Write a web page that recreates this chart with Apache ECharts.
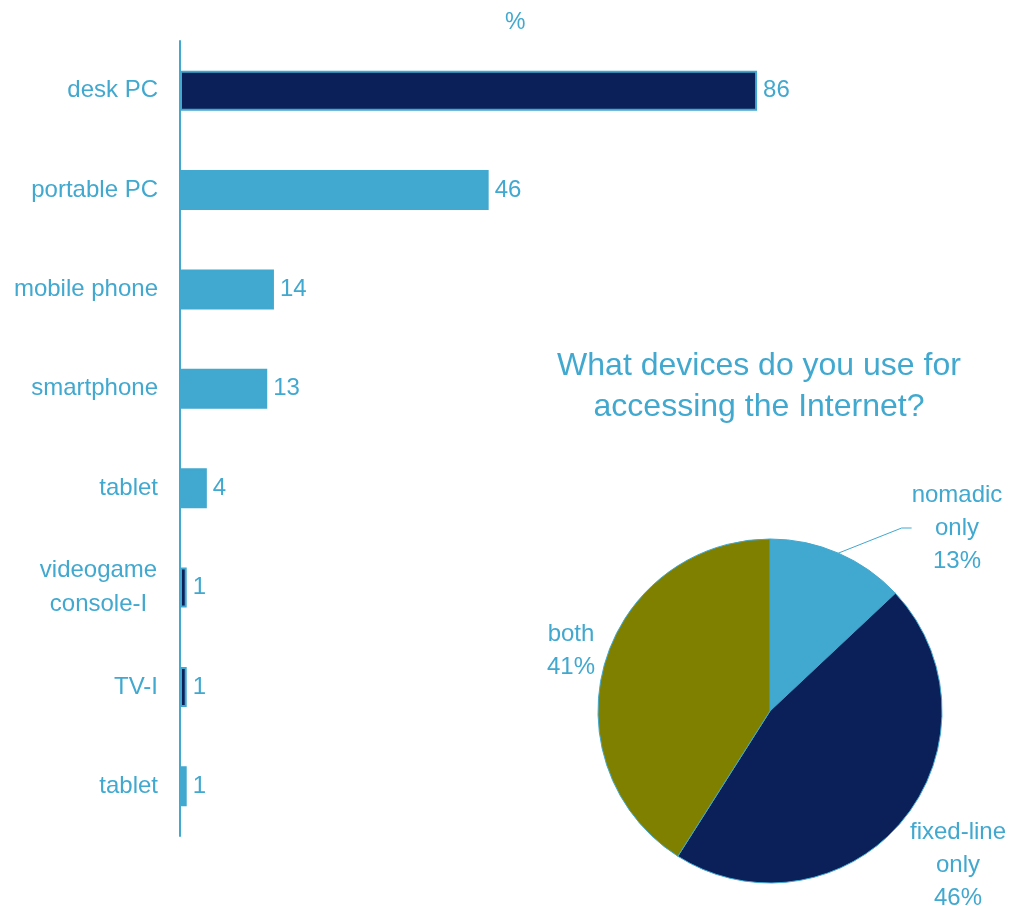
<!DOCTYPE html>
<html>
<head>
<meta charset="utf-8">
<style>
  html, body { margin: 0; padding: 0; background: #ffffff; }
  #chart { width: 1010px; height: 906px; }
</style>
<script src="https://cdn.jsdelivr.net/npm/echarts@6/dist/echarts.min.js"></script>
</head>
<body>
<div id="chart"></div>
<script>
// Devices used for accessing the Internet (%)
const deviceNames = ['desk PC', 'portable PC', 'mobile phone', 'smartphone', 'tablet', 'videogame\nconsole-I', 'TV-I', 'tablet'];
const deviceShares = [86, 46, 14, 13, 4, 1, 1, 1];
const deviceDark = [true, false, false, false, false, true, true, false];

// Type of access
const accessNames = ['nomadic only', 'fixed-line only', 'both'];
const accessShares = [13, 46, 41];

const NAVY = '#0b1f58';
const BLUE = '#41a8cf';
const OLIVE = '#808000';
const FONT = '"Liberation Sans", Arial, sans-serif';

const barData = deviceShares.map((v, i) => ({
  value: v,
  itemStyle: { color: deviceDark[i] ? NAVY : BLUE }
}));

// label anchor points for each pie slice
const pieLabelPos = [
  { x: 957, y: 528 },
  { x: 958, y: 865 },
  { x: 571, y: 651 }
];

const pieData = accessNames.map((n, i) => ({
  name: n,
  value: accessShares[i],
  itemStyle: { color: [BLUE, NAVY, OLIVE][i] },
  labelLine: { show: i === 0 }
}));

const chart = echarts.init(document.getElementById('chart'), null, { renderer: 'canvas' });
chart.setOption({
  animation: false,
  backgroundColor: '#ffffff',
  textStyle: { fontFamily: FONT },
  title: [
    {
      text: '%',
      left: 500, top: 6,
      textStyle: { color: BLUE, fontSize: 23, fontWeight: 'normal', fontFamily: FONT }
    },
    {
      text: 'What devices do you use for\naccessing the Internet?',
      left: 754, top: 341,
      textAlign: 'center',
      textStyle: { color: BLUE, fontSize: 32, lineHeight: 41, fontWeight: 'normal', fontFamily: FONT }
    }
  ],
  grid: { left: 180, top: 41, height: 795, width: 671, containLabel: false },
  xAxis: {
    type: 'value', min: 0, max: 100,
    show: false
  },
  yAxis: {
    type: 'category',
    data: deviceNames,
    inverse: true,
    axisLine: { show: true, lineStyle: { color: BLUE, width: 2 } },
    axisTick: { show: false },
    splitLine: { show: false },
    axisLabel: {
      margin: 22,
      color: BLUE,
      fontSize: 24,
      lineHeight: 34,
      fontFamily: FONT,
      formatter: function (v) {
        if (v.indexOf('\n') >= 0) {
          return v.split('\n').map(s => '{c|' + s + '}').join('\n');
        }
        return v;
      },
      rich: {
        c: { width: 119, align: 'center', color: BLUE, fontSize: 24, lineHeight: 34, fontFamily: FONT }
      }
    }
  },
  series: [
    {
      type: 'bar',
      data: barData,
      barWidth: 40,
      itemStyle: { borderColor: BLUE, borderWidth: 2 },
      label: {
        show: true,
        position: 'right',
        distance: 6,
        color: BLUE,
        fontSize: 24,
        fontFamily: FONT
      }
    },
    {
      type: 'pie',
      center: [770, 711],
      radius: 172,
      startAngle: 90,
      clockwise: true,
      data: pieData,
      itemStyle: { borderColor: BLUE, borderWidth: 1 },
      label: {
        show: true,
        position: 'outside',
        color: BLUE,
        fontSize: 24,
        lineHeight: 33,
        fontFamily: FONT,
        align: 'center',
        overflow: 'none',
        formatter: p => p.name.split(' ').join('\n') + '\n' + p.value + '%'
      },
      labelLine: {
        show: true,
        length: 10,
        length2: 10,
        lineStyle: { color: BLUE, width: 1 }
      },
      labelLayout: function (params) {
        const pos = pieLabelPos[params.dataIndex];
        return { x: pos.x, y: pos.y, align: 'center', verticalAlign: 'middle' };
      }
    }
  ]
});
</script>
</body>
</html>
